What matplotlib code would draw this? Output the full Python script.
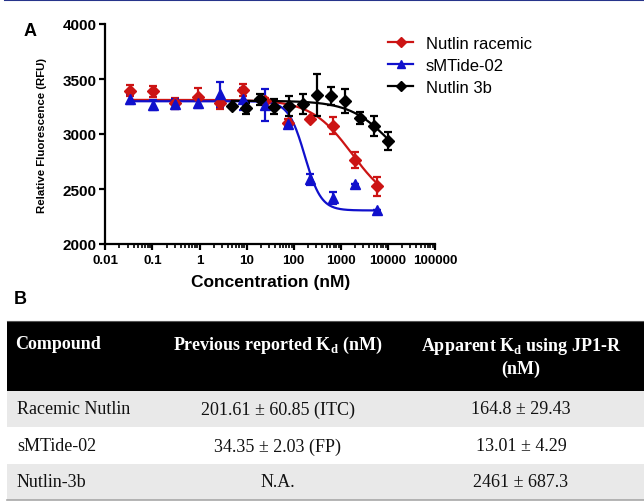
import numpy as np
import matplotlib
matplotlib.use("Agg")
import matplotlib.pyplot as plt
from matplotlib.lines import Line2D
from matplotlib.patches import Rectangle
from matplotlib.ticker import LogLocator, FixedLocator, FixedFormatter, NullFormatter

# ---------------- data ----------------
conc_rb = [0.0339, 0.1016, 0.305, 0.914, 2.74, 8.23, 24.7, 74.1, 222, 667, 2000, 6000]
conc_k = [4.88, 9.77, 19.5, 39.1, 78.1, 156, 312, 625, 1250, 2500, 5000, 10000]

red_mean = [3395, 3390, 3280, 3333, 3280, 3400, 3300, 3100, 3140, 3076, 2764, 2523]
red_err = [50, 50, 50, 85, 50, 55, 30, 38, 10, 75, 75, 85]
blue_mean = [3318, 3262, 3273, 3285, 3360, 3320, 3263, 3091, 2590, 2415, 2548, 2312]
blue_err = [45, 48, 45, 45, 115, 100, 145, 15, 50, 55, 0, 0]
black_mean = [3252, 3236, 3316, 3250, 3258, 3273, 3356, 3344, 3300, 3145, 3076, 2936]
black_err = [0, 50, 50, 70, 90, 90, 190, 80, 110, 55, 90, 80]

# 4-parameter logistic fit parameters: top, bottom, EC50, hill
red_fit = [3310, 2327, 1740, 1.0]
blue_fit = [3298, 2305, 172, 2.5]
black_fit = [3302, 2560, 11300, 1.0]

series_labels = ["Nutlin racemic", "sMTide-02", "Nutlin 3b"]
xtick_vals = [0.01, 0.1, 1, 10, 100, 1000, 10000, 100000]
xtick_labels = ["0.01", "0.1", "1", "10", "100", "1000", "10000", "100000"]
ytick_vals = [2000, 2500, 3000, 3500, 4000]

table_headers = ["Compound", "Previous reported K$_\\mathregular{d}$ (nM)",
                 "Apparent K$_\\mathregular{d}$ using JP1-R\n(nM)"]
table_compounds = ["Racemic Nutlin", "sMTide-02", "Nutlin-3b"]
table_prev = ["201.61 ± 60.85 (ITC)", "34.35 ± 2.03 (FP)", "N.A."]
table_app = ["164.8 ± 29.43", "13.01 ± 4.29", "2461 ± 687.3"]

# ---------------- style ----------------
SANS = ["Liberation Sans", "DejaVu Sans"]
SERIF = ["Liberation Serif", "DejaVu Serif"]
RED = "#cc1414"
BLUE = "#1010cc"
BLACK = "#000000"

W, H = 644, 502
fig = plt.figure(figsize=(W / 100, H / 100), dpi=100)

# top rule
fig.add_artist(Line2D([5 / W, 1], [1 - 1 / H, 1 - 1 / H], color="#27348b", lw=1.5))

# ---------------- panel A ----------------
x0, x1, y0, y1 = 105.3, 435.0, 25.0, 245.0
ax = fig.add_axes([x0 / W, 1 - y1 / H, (x1 - x0) / W, (y1 - y0) / H])
ax.set_xscale("log")
ax.set_xlim(0.01, 100000)
ax.set_ylim(2000, 4000)


def logistic(x, p):
    top, bottom, ec50, hill = p
    x = np.asarray(x, dtype=float)
    return bottom + (top - bottom) / (1 + (x / ec50) ** hill)


specs = [
    (conc_rb, red_mean, red_err, red_fit, RED, "D", 5.8),
    (conc_rb, blue_mean, blue_err, blue_fit, BLUE, "^", 6.8),
    (conc_k, black_mean, black_err, black_fit, BLACK, "D", 5.8),
]
handles = []
for (cx, my, ey, fp, col, mk, ms), lab in zip(specs, series_labels):
    xs = np.logspace(np.log10(min(cx)), np.log10(max(cx)), 300)
    ax.plot(xs, logistic(xs, fp), color=col, lw=1.6, zorder=3)
    ax.errorbar(cx, my, yerr=ey, fmt=mk, color=col, ms=ms, elinewidth=1.6,
                capsize=3.2, capthick=1.6, zorder=4)
    handles.append(Line2D([], [], color=col, marker=mk, ms=ms - 0.8, lw=1.6))

for side in ["top", "right"]:
    ax.spines[side].set_visible(False)
for side in ["left", "bottom"]:
    ax.spines[side].set_linewidth(1.6)

ax.xaxis.set_major_locator(FixedLocator(xtick_vals))
ax.xaxis.set_major_formatter(FixedFormatter(xtick_labels))
ax.xaxis.set_minor_locator(LogLocator(base=10, subs=np.arange(2, 10), numticks=20))
ax.xaxis.set_minor_formatter(NullFormatter())
ax.set_yticks(ytick_vals)
ax.tick_params(axis="x", which="major", length=4, width=1.6, pad=3)
ax.tick_params(axis="x", which="minor", length=2.8, width=1.2)
ax.tick_params(axis="y", which="major", length=4, width=1.6, pad=2)
for lbl in ax.get_xticklabels():
    lbl.set_fontfamily(SANS)
    lbl.set_fontweight("bold")
    lbl.set_fontsize(9.6)
for lbl in ax.get_yticklabels():
    lbl.set_fontfamily(SANS)
    lbl.set_fontweight("bold")
    lbl.set_fontsize(11)

ax.set_xlabel("Concentration (nM)", fontfamily=SANS, fontsize=12.5, fontweight="bold")
ax.xaxis.label.set_va("center")
ax.xaxis.set_label_coords(0.5, (y1 - 283) / (y1 - y0))
ax.set_ylabel("Relative Fluorescence (RFU)", fontfamily=SANS, fontsize=8.2, fontweight="bold")
ax.yaxis.label.set_va("center")
ax.yaxis.set_label_coords((42 - x0) / (x1 - x0), 0.5)

leg = fig.legend(handles, series_labels, loc="upper left",
                 bbox_to_anchor=(388 / W, 1 - 37 / H), frameon=False,
                 prop={"family": SANS, "size": 12}, handlelength=1.5,
                 handletextpad=0.75, labelspacing=0.42, borderpad=0, borderaxespad=0)

fig.text(30 / W, 1 - 32 / H, "A", fontfamily=SANS, fontsize=13, fontweight="bold",
         ha="center", va="center")

# ---------------- panel B (table) ----------------
tab = fig.add_axes([0, 0, 1, 1])
tab.set_xlim(0, W)
tab.set_ylim(H, 0)
tab.axis("off")
tab.patch.set_visible(False)

fig.text(20 / W, 1 - 300 / H, "B", fontfamily=SANS, fontsize=13, fontweight="bold",
         ha="center", va="center")

tl, tr = 7, W
tab.add_patch(Rectangle((tl, 322), tr - tl, 70, facecolor="black", edgecolor="none"))
row_tops = [392, 428, 465]
row_h = [36, 37, 36]
row_cols = ["#e9e9e9", "white", "#e9e9e9"]
for t, h, c in zip(row_tops, row_h, row_cols):
    tab.add_patch(Rectangle((tl, t), tr - tl, h, facecolor=c, edgecolor="none"))
tab.plot([tl, tr], [501, 501], color="#a8a8a8", lw=1.2)
tab.plot([tl, tr], [322, 322], color="#555555", lw=0.8)

col1_x, col2_x, col3_x = 17, 278, 521
hkw = dict(fontfamily=SERIF, fontsize=13, fontweight="bold", color="white", va="center")
tab.text(col1_x - 2, 345, table_headers[0], ha="left", **hkw)
tab.text(col2_x, 345, table_headers[1], ha="center", **hkw)
tab.text(col3_x, 357, table_headers[2], ha="center", linespacing=1.35, **hkw)

bkw = dict(fontfamily=SERIF, fontsize=13, color="#111111", va="center")
row_centers = [410, 447, 483]
for yc, a, b, c in zip(row_centers, table_compounds, table_prev, table_app):
    tab.text(col1_x, yc, a, ha="left", **bkw)
    tab.text(col2_x, yc, b, ha="center", **bkw)
    tab.text(col3_x, yc, c, ha="center", **bkw)

fig.savefig("out.png", dpi=100)
